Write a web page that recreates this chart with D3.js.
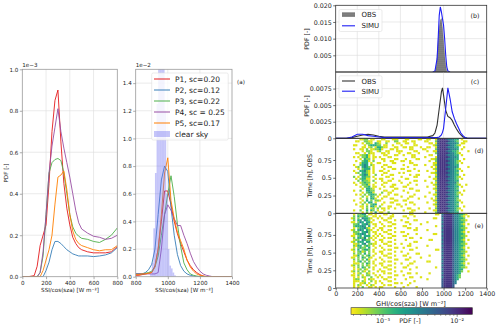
<!DOCTYPE html>
<html><head><meta charset="utf-8">
<script src="https://cdn.jsdelivr.net/npm/d3@7"></script>
<style>body{margin:0;background:#fff}svg{font-family:"DejaVu Sans",sans-serif}</style>
</head><body><svg id="c" width="500" height="327"></svg>
<script>
// ---------------- DATA ----------------
// Panel (a) left: low SSI range (values in units of 1e-3)
const lowX = [0,50,100,125,150,175,200,225,250,275,300,325,350,375,400,425,450,475,500,550,600,650,700,750,800];
const lowP1 = [0,0,0.005,0.05,0.15,0.2,0.25,0.45,0.7,0.85,0.90,0.65,0.45,0.33,0.25,0.19,0.16,0.14,0.13,0.12,0.115,0.115,0.115,0.12,0.145];
const lowP2 = [0,0,0,0,0,0,0.03,0.07,0.13,0.17,0.17,0.16,0.145,0.13,0.12,0.11,0.105,0.1,0.1,0.1,0.097,0.1,0.105,0.115,0.14];
const lowP3 = [0,0,0,0,0.02,0.1,0.3,0.5,0.55,0.565,0.57,0.56,0.5,0.4,0.3,0.24,0.21,0.195,0.185,0.18,0.17,0.165,0.18,0.2,0.235];
const lowP4 = [0,0,0,0,0.02,0.12,0.3,0.5,0.63,0.72,0.81,0.7,0.62,0.55,0.48,0.4,0.32,0.26,0.23,0.21,0.195,0.19,0.18,0.185,0.2];
const lowP5 = [0,0,0,0,0,0.03,0.08,0.13,0.2,0.35,0.48,0.49,0.51,0.42,0.3,0.22,0.18,0.16,0.15,0.14,0.13,0.125,0.13,0.13,0.15];
// Panel (a) right: high SSI range (values in units of 1e-2)
const highX = [800,820,840,860,880,900,920,940,960,980,1000,1020,1040,1060,1080,1100,1120,1140,1160,1180,1200,1220,1240,1260,1280,1300,1320,1340,1360,1380,1400];
const highP1 = [0.01,0.01,0.015,0.02,0.025,0.03,0.08,0.2,0.4,0.62,0.62,0.52,0.4,0.31,0.24,0.18,0.12,0.08,0.05,0.03,0.015,0.005,0,0,0,0,0,0,0,0,0];
const highP2 = [0.02,0.02,0.02,0.03,0.05,0.09,0.2,0.45,0.7,0.8,0.76,0.5,0.3,0.16,0.08,0.04,0.02,0.01,0.005,0,0,0,0,0,0,0,0,0,0,0,0];
const highP3 = [0.02,0.02,0.02,0.025,0.03,0.04,0.07,0.15,0.3,0.45,0.6,0.73,0.58,0.38,0.22,0.1,0.05,0.02,0.01,0.005,0,0,0,0,0,0,0,0,0,0,0];
const highP4 = [0.02,0.02,0.02,0.02,0.02,0.02,0.02,0.03,0.2,0.45,0.52,0.48,0.42,0.37,0.37,0.3,0.24,0.17,0.11,0.07,0.04,0.02,0.01,0.005,0,0,0,0,0,0,0];
const highP5 = [0.015,0.015,0.02,0.02,0.025,0.03,0.07,0.2,0.45,0.75,0.86,0.55,0.42,0.32,0.26,0.2,0.12,0.07,0.04,0.02,0.01,0.005,0,0,0,0,0,0,0,0,0];
const seriesLabels = ["P1, sc=0.20","P2, sc=0.12","P3, sc=0.22","P4, sc = 0.25","P5, sc=0.17"];
const seriesColors = ["#e41a1c","#377eb8","#4daf4a","#984ea3","#ff7f00"];
// clear sky histogram (bin start, width 10, values 1e-2)
const clearBins = [890,900,910,920,930,940,950,960,970,980,990,1000,1010,1020,1030,1040];
const clearVals = [0.02,0.1,0.35,0.75,1.25,1.6,1.7,1.7,1.6,1.2,0.6,0.2,0.08,0.06,0.03,0.01];

// Panel (b) clear sky PDFs
const bObsX = [920,930,940,950,960,970,980,990,1000,1010,1020,1030];
const bObsY = [0,0.001,0.004,0.009,0.013,0.0155,0.016,0.013,0.009,0.005,0.002,0];
const bSimX = [900,920,940,950,960,970,980,990,1000,1010,1020,1030,1040,1060];
const bSimY = [0,0.0003,0.004,0.01,0.017,0.0195,0.018,0.016,0.014,0.01,0.005,0.0015,0.0003,0];
// Panel (c) all-sky PDFs
const cX = [0,100,150,200,250,300,350,400,450,500,600,700,800,850,900,920,940,960,980,990,1000,1020,1040,1060,1080,1100,1120,1140,1160,1180,1200,1220,1260,1300,1400];
const cObs = [0,0,0.0001,0.0003,0.0005,0.0006,0.0005,0.0003,0.0002,0.0002,0.0002,0.0002,0.0002,0.0002,0.0004,0.0008,0.002,0.0045,0.007,0.0076,0.0065,0.0042,0.0033,0.0031,0.0027,0.002,0.0014,0.0009,0.0005,0.0002,0.0001,0,0,0,0];
const cSim = [0,0,0.0002,0.0006,0.0006,0.0004,0.0003,0.0002,0.0001,0.0001,0.0001,0.0001,0.0001,0.0001,0.0001,0.0001,0.0001,0.0002,0.0005,0.0009,0.0015,0.0045,0.0076,0.006,0.004,0.003,0.0022,0.0015,0.0008,0.0004,0.0001,0,0,0,0];

// Panels (d),(e): time-resolved PDF levels; rows top (late) to bottom (t=0), columns of 20 W m-2 from 0
const levelVals = [0,4.5e-4,8e-4,1.5e-3,3e-3,5.5e-3,9e-3];
const obsRows = [
"..........|.1122.11..|.11...111.|..11....11|..11..1566|6544433.1.",
".........1|1..2211..1|1..11..22.|.11..11...|.11...2566|6654432..1|1",
"..........|..1.221.32|1..2....11|..11..1...|...11.1566|6544443.11",
"........11|...1.23332|2.11..1...|1.....11..|.....12566|66544321..",
"..........|..11.12.13|3211...11.|.11.11...1|..11..1566|6544433..1",
"........1.|.11.2.1122|31...11.1.|....11....|11....2566|6654443.1.",
"..........|..1.221..1|2..11...11|1.....11..|..1..11566|6544332...|.1",
".........1|1..1.211..|.11.1....1|...11...1.|......2566|66544321..",
"..........|.12231.1..|..11...11.|.1...11...|...11..566|6544433.1.",
"........1.|1.2231.11.|1...11....|.....11...|.1....1566|6654443...",
"..........|.1.322.1..|.11....11.|..1....11.|....112566|6544433..1",
".........1|..2331.2..|..1..11...|11..1.....|...1..2566|66544321..",
"..........|.1333.1..1|1.....11..|....11....|.....11566|6544432.1.",
"........1.|.2343.21..|..11......|.1....11..|.1...12566|6654433...",
".........1|2.3432.1..|.1..11....|...1......|....1.1566|6544443...|.1",
"..........|1.2333.1..|..1...11..|11....1...|.....12566|66544321..",
"........1.|.33421.1..|11..1.....|...11...1.|..1...1566|6544433.1.",
".........1|2.3321.1..|..11.....1|.1........|....112566|6654432...",
"..........|.23431..2.|.1...11...|....1..11.|......1566|6544433..1",
"........2.|1.3322.1..|...11.....|1.....11..|...1..2566|66544321..",
".........1|.23311..1.|11....1...|..11......|.....11566|6544432.1.",
"..........|2.3221.2..|.1..11...1|......11..|.1....2566|6654433...",
"........1.|.12322..1.|..11......|1...1.....|....1.1566|6544442...",
".........1|..2231.1..|.1....11..|...1...1..|.....12566|66544321..|1",
"..........|.1.223.11.|..1..11...|.11.......|..1...1566|6544433.1.",
"..........|..1.3321..|1......11.|....11....|.....12566|6654432...",
"........1.|.2..3322..|..11..1...|.1.....11.|......1566|6544433..1",
"..........|..1.2331..|.2..11....|...1......|...1..2566|66544321..",
".........1|.1.2.2332.|1...1..11.|......1...|.....11566|6544432.1.",
"..........|..2.1.32.1|..11......|1...11....|.1....2566|6654433...",
"..........|.1..2.331.|.1...11...|...1....1.|....1.1566|6544432...",
"........1.|..1.3.2.22|1......11.|.11.......|.....12566|66544321..",
"..........|.1.2.33.1.|..1..11...|....11....|..1...1566|6544433.1.",
".........1|..2.1.233.|.1......11|..1...1...|.....12566|6654432...",
"..........|.11.2.331.|2...11....|1.........|......1566|6544433..1",
"..........|..1.2.12.2|.11.1..1..|...11...1.|...1..2566|66544321..",
"........1.|.2..3.32.1|..1.......|.1...11...|.....11566|6544432.1.",
"..........|..1.2.1.3.|11..2.....|....11....|.1....2566|6654433..."
];
const simRows = [
"........1.|2233.11.1.|..11..1...|....11....|......11.4|6666544332|1",
"........2.|32232..11.|1....11...|.11...1...|.........5|6666544321|.1",
".......12.|2.43321..1|.1..11....|...1......|.....11..4|6666544332",
"........2.|33.432.1..|..11...1..|1.....11..|.........5|6666544322|1",
".......11.|243.331...|1...11....|..11......|..1......4|6666544332",
"........22|3.3342.11.|.1....11..|....1....1|.........5|6666544321|.1",
"........23|3343.3..1.|..1.11....|.11.......|......1..4|6666544332",
"........1.|233421.1..|11.....1..|...11..1..|.........5|6666544322|1",
".......12.|343.321..1|.1..11....|......11..|..1......4|6666544332",
"........22|2.3342.11.|..11...1..|11........|.........5|6666544321|.1",
"........12|3343.2..1.|1...11....|...1...1..|.....11..4|6666544332",
".......11.|23.333.1.1|.1....11..|.11.......|.........5|6666544322|1",
"........2.|3324.21.1.|..1.11....|....11...1|.........4|6666544332",
"........12|2.4322.1..|11.....1..|..1.......|...11....5|6666544321|.1",
".......12.|333.33..1.|.1..11....|......11..|.........4|6666544332",
"........11|2.34.2211.|..11...1..|1...1.....|.........5|6666544322|1",
"........21|33.232.1..|1...11....|...11.....|..1......4|6666544332",
"........1.|2322.3..1.|.1.....11.|.1.....1..|.........5|6666544321|.1",
".......12.|3.2332.1..|..1.11....|....11....|......11.4|6666544332",
"........1.|2312.2.1..|11.....1..|1.........|.........5|6666544322|1",
"........2.|22.3.2..1.|.1..11....|...1...11.|.........4|6666544332",
"........11|3.2.23.1..|..11...1..|.11.......|...1.....5|6666544321|.1",
".......11.|2.32.21...|1...11....|....1....1|.........4|6666544332",
"........2.|2.2.31..1.|.1.....11.|..11......|.........5|6666544322|1",
"........1.|23.2.2.1..|..1.11....|......1...|..11.....4|6666544332",
"........11|1.2.32.1..|11.....1..|1...11....|.........5|6666544321|.1",
".......12.|2.2.21..1.|.1..11....|...1......|.........4|6666544332",
"........1.|2.32.2.1..|..11...1..|.11....1..|......1..5|6666544322|1",
"........1.|12.21..1..|1...11....|....1.....|.........4|666654433.",
".......12.|2.21.2...1|.11....1..|1.........|.........5|666654432.|.1",
"........1.|12..21.1..|..1.11....|...11..1..|...1.....4|66665443..",
".......11.|2.1.22..1.|1......11.|.1........|.........5|66665432..",
"........1.|1.21..2..1|.1..11....|....11...1|.........4|66665432..",
"........12|2..1.211..|..11...1..|..1.......|..1......5|6666543...",
"........11|1.21..2.1.|1...11....|......1...|.........5|666654....",
"........1.|.112.1..1.|.1.....11.|1...1.....|.........5|666654....",
"........1.|21..1.21..|..1.11....|...1......|.........5|66665.....",
"........1.|1.2..11.1.|11.....1..|.1.....1..|.........5|66665....."
];
const binWidth = 20;
const rowHours = 1/36;

// ---------------- DRAWING ----------------
const svg = d3.select("#c");
const FONT = "DejaVu Sans, sans-serif";
const defs = svg.append("defs");
const fmtInt = d3.format("d");

function clip(id, x0, y0, x1, y1) {
  defs.append("clipPath").attr("id", id).append("rect")
    .attr("x", x0).attr("y", y0).attr("width", x1 - x0).attr("height", y1 - y0);
  return "url(#" + id + ")";
}
function styleAxis(g, fs, tickColor) {
  g.select("path.domain").remove();
  g.selectAll(".tick line").attr("stroke", tickColor).attr("stroke-width", 0.7);
  g.selectAll(".tick text").attr("fill", "#222").attr("font-size", fs).attr("font-family", FONT);
}
function grid(g, xs, ys, xScale, yScale, x0, y0, x1, y1) {
  xs.forEach(v => g.append("line").attr("x1", xScale(v)).attr("x2", xScale(v)).attr("y1", y0).attr("y2", y1)
    .attr("stroke", "#dcdcdc").attr("stroke-width", 0.6));
  ys.forEach(v => g.append("line").attr("y1", yScale(v)).attr("y2", yScale(v)).attr("x1", x0).attr("x2", x1)
    .attr("stroke", "#dcdcdc").attr("stroke-width", 0.6));
}
function frame(g, x0, y0, x1, y1, color) {
  g.append("rect").attr("x", x0).attr("y", y0).attr("width", x1 - x0).attr("height", y1 - y0)
    .attr("fill", "none").attr("stroke", color).attr("stroke-width", 0.8);
}
function text(x, y, s, fs, anchor, rot) {
  const t = svg.append("text").attr("x", x).attr("y", y).text(s).attr("font-size", fs)
    .attr("font-family", FONT).attr("fill", "#222").attr("text-anchor", anchor || "start");
  if (rot) t.attr("transform", `rotate(${rot},${x},${y})`);
  return t;
}

// ----- Panel (a) left: low range -----
{
  const X0 = 22.3, X1 = 117.3, Y0 = 69.3, Y1 = 276.7;
  const x = d3.scaleLinear([0, 800], [X0, X1]);
  const y = d3.scaleLinear([0, 1.0], [Y1, Y0]);
  const g = svg.append("g");
  grid(g, [200, 400, 600], [0.2, 0.4, 0.6, 0.8], x, y, X0, Y0, X1, Y1);
  const cp = clip("clipA1", X0, Y0, X1, Y1);
  const lines = [lowP1, lowP2, lowP3, lowP4, lowP5];
  lines.forEach((vals, i) => {
    g.append("path").attr("clip-path", cp)
      .attr("d", d3.line().x((d, j) => x(lowX[j])).y(d => y(d))(vals))
      .attr("fill", "none").attr("stroke", seriesColors[i]).attr("stroke-width", 0.9);
  });
  frame(g, X0, Y0, X1, Y1, "#9a9a9a");
  const ax = g.append("g").attr("transform", `translate(0,${Y1})`)
    .call(d3.axisBottom(x).tickValues([0, 200, 400, 600, 800]).tickFormat(fmtInt).tickSize(2.5).tickPadding(1.5));
  styleAxis(ax, 5.6, "#888");
  const ay = g.append("g").attr("transform", `translate(${X0},0)`)
    .call(d3.axisLeft(y).tickValues([0, 0.2, 0.4, 0.6, 0.8, 1.0]).tickFormat(d3.format(".1f")).tickSize(2.5).tickPadding(1.5));
  styleAxis(ay, 5.6, "#888");
  text(X0, 67, "1e\u22123", 5.6, "start");
  text(70, 292, "SSI/cos(sza) [W m\u207B\u00B2]", 5.6, "middle");
  text(7.5, 173, "PDF [-]", 5.6, "middle", -90);
}

// ----- Panel (a) right: high range -----
{
  const X0 = 135.7, X1 = 232, Y0 = 69.3, Y1 = 276.7;
  const x = d3.scaleLinear([800, 1400], [X0, X1]);
  const y = d3.scaleLinear([0, 1.5], [Y1, Y0]);
  const g = svg.append("g");
  grid(g, [1000, 1200], [0.2, 0.4, 0.6, 0.8, 1.0, 1.2, 1.4], x, y, X0, Y0, X1, Y1);
  const cp = clip("clipA2", X0, Y0, X1, Y1);
  const lines = [highP1, highP2, highP3, highP4, highP5];
  lines.forEach((vals, i) => {
    g.append("path").attr("clip-path", cp)
      .attr("d", d3.line().x((d, j) => x(highX[j])).y(d => y(d))(vals))
      .attr("fill", "none").attr("stroke", seriesColors[i]).attr("stroke-width", 0.9);
  });
  g.append("g").attr("clip-path", cp).selectAll("rect").data(clearBins).join("rect")
    .attr("x", d => x(d)).attr("width", d => x(d + 10) - x(d))
    .attr("y", (d, i) => y(clearVals[i])).attr("height", (d, i) => Y1 - y(clearVals[i]))
    .attr("fill", "rgb(110,110,240)").attr("fill-opacity", 0.4);
  frame(g, X0, Y0, X1, Y1, "#9a9a9a");
  const ax = g.append("g").attr("transform", `translate(0,${Y1})`)
    .call(d3.axisBottom(x).tickValues([800, 1000, 1200, 1400]).tickFormat(fmtInt).tickSize(2.5).tickPadding(1.5));
  styleAxis(ax, 5.6, "#888");
  const ay = g.append("g").attr("transform", `translate(${X0},0)`)
    .call(d3.axisLeft(y).tickValues([0, 0.2, 0.4, 0.6, 0.8, 1.0, 1.2, 1.4]).tickFormat(d3.format(".1f")).tickSize(2.5).tickPadding(1.5));
  styleAxis(ay, 5.6, "#888");
  text(X0, 67, "1e\u22122", 5.6, "start");
  text(184, 292, "SSI/cos(sza) [W m\u207B\u00B2]", 5.6, "middle");
  text(241, 84, "(a)", 5.6, "middle");
  // legend
  const lg = svg.append("g");
  lg.append("rect").attr("x", 151.7).attr("y", 73).attr("width", 76.5).attr("height", 67)
    .attr("rx", 1.5).attr("fill", "#fff").attr("fill-opacity", 0.8).attr("stroke", "#ddd").attr("stroke-width", 0.6);
  seriesLabels.forEach((lab, i) => {
    const yy = 79 + i * 11;
    lg.append("line").attr("x1", 154).attr("x2", 170).attr("y1", yy).attr("y2", yy)
      .attr("stroke", seriesColors[i]).attr("stroke-width", 1);
    text(175, yy + 2.8, lab, 7.5, "start");
  });
  lg.append("rect").attr("x", 154).attr("y", 131).attr("width", 16).attr("height", 6)
    .attr("fill", "rgb(110,110,240)").attr("fill-opacity", 0.4);
  text(175, 136.8, "clear sky", 7.5, "start");
}

// ----- Right column -----
const xR = d3.scaleLinear([0, 1400], [335.7, 486.7]);
const RX0 = 335.7, RX1 = 486.7;
const xTicksR = [0, 200, 400, 600, 800, 1000, 1200, 1400];
const RFS = 6.3;

// pattern for OBS fill
const pat = defs.append("pattern").attr("id", "dots").attr("patternUnits", "userSpaceOnUse")
  .attr("width", 2).attr("height", 2);
pat.append("rect").attr("width", 2).attr("height", 2).attr("fill", "#8c8c8c");
pat.append("circle").attr("cx", 1).attr("cy", 1).attr("r", 0.55).attr("fill", "#4a4a4a");

// (b)
{
  const Y0 = 5.3, Y1 = 72;
  const y = d3.scaleLinear([0, 0.02], [Y1, Y0]);
  const g = svg.append("g");
  grid(g, [200, 400, 600, 800, 1000, 1200], [0.005, 0.01, 0.015], xR, y, RX0, Y0, RX1, Y1);
  const cp = clip("clipB", RX0, Y0, RX1, Y1);
  g.append("path").attr("clip-path", cp)
    .attr("d", d3.area().x((d, j) => xR(bObsX[j])).y0(Y1).y1(d => y(d))(bObsY))
    .attr("fill", "url(#dots)").attr("stroke", "#555").attr("stroke-width", 0.4);
  g.append("path").attr("clip-path", cp)
    .attr("d", d3.line().x((d, j) => xR(bSimX[j])).y(d => y(d))(bSimY))
    .attr("fill", "none").attr("stroke", "#1f1ff5").attr("stroke-width", 1.1);
  frame(g, RX0, Y0, RX1, Y1, "#333");
  const ay = g.append("g").attr("transform", `translate(${RX0},0)`)
    .call(d3.axisLeft(y).tickValues([0.005, 0.01, 0.015, 0.02]).tickFormat(d3.format(".3f")).tickSize(2.5).tickPadding(1.5));
  styleAxis(ay, RFS, "#333");
  text(309, 39, "PDF [-]", RFS, "middle", -90);
  text(475, 17.5, "(b)", RFS, "middle");
  const lg = svg.append("g");
  lg.append("rect").attr("x", 339).attr("y", 9.5).attr("width", 43).attr("height", 22)
    .attr("rx", 1.5).attr("fill", "#fff").attr("fill-opacity", 0.85).attr("stroke", "#ddd").attr("stroke-width", 0.6);
  lg.append("rect").attr("x", 342).attr("y", 12.3).attr("width", 13).attr("height", 4.6).attr("fill", "url(#dots)");
  text(361.5, 17.3, "OBS", 7, "start");
  lg.append("line").attr("x1", 342).attr("x2", 355).attr("y1", 25.8).attr("y2", 25.8).attr("stroke", "#1f1ff5").attr("stroke-width", 1.1);
  text(361.5, 28.3, "SIMU", 7, "start");
}

// (c)
{
  const Y0 = 72, Y1 = 138.3;
  const y = d3.scaleLinear([0, 0.01], [Y1, Y0]);
  const g = svg.append("g");
  grid(g, [200, 400, 600, 800, 1000, 1200], [0.0025, 0.005, 0.0075], xR, y, RX0, Y0, RX1, Y1);
  const cp = clip("clipC", RX0, Y0, RX1, Y1 + 1);
  g.append("path").attr("clip-path", cp)
    .attr("d", d3.line().x((d, j) => xR(cX[j])).y(d => y(d))(cObs))
    .attr("fill", "none").attr("stroke", "#333").attr("stroke-width", 1.1);
  g.append("path").attr("clip-path", cp)
    .attr("d", d3.line().x((d, j) => xR(cX[j])).y(d => y(d))(cSim))
    .attr("fill", "none").attr("stroke", "#1f1ff5").attr("stroke-width", 1.1);
  frame(g, RX0, Y0, RX1, Y1, "#333");
  const ay = g.append("g").attr("transform", `translate(${RX0},0)`)
    .call(d3.axisLeft(y).tickValues([0, 0.0025, 0.005, 0.0075]).tickFormat(d => d === 0 ? "0" : String(d)).tickSize(2.5).tickPadding(1.5));
  styleAxis(ay, RFS, "#333");
  text(309, 106, "PDF [-]", RFS, "middle", -90);
  text(475, 84, "(c)", RFS, "middle");
  const lg = svg.append("g");
  lg.append("rect").attr("x", 339).attr("y", 75.8).attr("width", 43).attr("height", 22)
    .attr("rx", 1.5).attr("fill", "#fff").attr("fill-opacity", 0.85).attr("stroke", "#ddd").attr("stroke-width", 0.6);
  lg.append("line").attr("x1", 342).attr("x2", 355).attr("y1", 81).attr("y2", 81).attr("stroke", "#333").attr("stroke-width", 1.1);
  text(361.5, 83.5, "OBS", 7, "start");
  lg.append("line").attr("x1", 342).attr("x2", 355).attr("y1", 91.2).attr("y2", 91.2).attr("stroke", "#1f1ff5").attr("stroke-width", 1.1);
  text(361.5, 93.7, "SIMU", 7, "start");
}

// colour scale
const cMin = 3.7e-4, cMax = 1.6e-2;
const cLog = d3.scaleLog([cMin, cMax], [0, 1]).clamp(true);
const cColor = v => d3.interpolateViridis(1 - cLog(v));

function heat(rows, Y0, Y1, id, label, tag) {
  const nRows = rows.length;
  const y = d3.scaleLinear([0, nRows * rowHours], [Y1, Y0]);
  const g = svg.append("g");
  const cp = clip(id, RX0, Y0, RX1, Y1);
  const cells = [];
  rows.forEach((s, r) => {
    const str = s.replace(/\|/g, "");
    const t0 = (nRows - 1 - r) * rowHours;
    for (let i = 0; i < str.length; i++) {
      const c = str[i];
      if (c >= "1" && c <= "6") cells.push({ x: i * binWidth, t: t0, v: levelVals[+c] });
    }
  });
  g.append("g").attr("clip-path", cp).selectAll("rect").data(cells).join("rect")
    .attr("x", d => xR(d.x)).attr("width", d => xR(d.x + binWidth) - xR(d.x) + 0.15)
    .attr("y", d => y(d.t + rowHours)).attr("height", d => y(d.t) - y(d.t + rowHours) + 0.15)
    .attr("fill", d => cColor(d.v));
  frame(g, RX0, Y0, RX1, Y1, "#333");
  const ay = g.append("g").attr("transform", `translate(${RX0},0)`)
    .call(d3.axisLeft(y).tickValues([0, 0.25, 0.5, 0.75]).tickFormat(d => d === 0 ? "0" : String(d)).tickSize(2.5).tickPadding(1.5));
  styleAxis(ay, RFS, "#333");
  text(312, (Y0 + Y1) / 2, label, RFS, "middle", -90);
  text(479, Y0 + 15, tag, RFS, "middle");
}
heat(obsRows, 138.3, 213.3, "clipD", "Time [h], OBS", "(d)");
heat(simRows, 213.3, 288, "clipE", "Time [h], SIMU", "(e)");

{
  const ax = svg.append("g").attr("transform", "translate(0,288)")
    .call(d3.axisBottom(xR).tickValues(xTicksR).tickFormat(fmtInt).tickSize(2.5).tickPadding(1.5));
  styleAxis(ax, RFS, "#333");
  text(411, 305.5, "GHI/cos(sza) [W m\u207B\u00B2]", 6.6, "middle");
}

// colourbar
{
  const CX0 = 351, CX1 = 472.3, CY0 = 307.7, CY1 = 314.3;
  const cbx = d3.scaleLog([cMin, cMax], [CX0, CX1]);
  const grad = defs.append("linearGradient").attr("id", "cbgrad").attr("x1", "0%").attr("x2", "100%");
  d3.range(0, 1.0001, 0.05).forEach(t => grad.append("stop").attr("offset", (t * 100) + "%").attr("stop-color", d3.interpolateViridis(1 - t)));
  svg.append("rect").attr("x", CX0).attr("y", CY0).attr("width", CX1 - CX0).attr("height", CY1 - CY0)
    .attr("fill", "url(#cbgrad)").attr("stroke", "#333").attr("stroke-width", 0.6);
  const minor = [4e-4,5e-4,6e-4,7e-4,8e-4,9e-4,2e-3,3e-3,4e-3,5e-3,6e-3,7e-3,8e-3,9e-3];
  minor.forEach(v => svg.append("line").attr("x1", cbx(v)).attr("x2", cbx(v)).attr("y1", CY1).attr("y2", CY1 + 1.5).attr("stroke", "#333").attr("stroke-width", 0.5));
  [1e-3, 1e-2].forEach(v => svg.append("line").attr("x1", cbx(v)).attr("x2", cbx(v)).attr("y1", CY1).attr("y2", CY1 + 2.5).attr("stroke", "#333").attr("stroke-width", 0.6));
  text(cbx(1e-3), 322.5, "10\u207B\u00B3", RFS, "middle");
  text(cbx(1e-2), 322.5, "10\u207B\u00B2", RFS, "middle");
  text(410, 322.5, "PDF [-]", RFS, "middle");
}
</script></body></html>
